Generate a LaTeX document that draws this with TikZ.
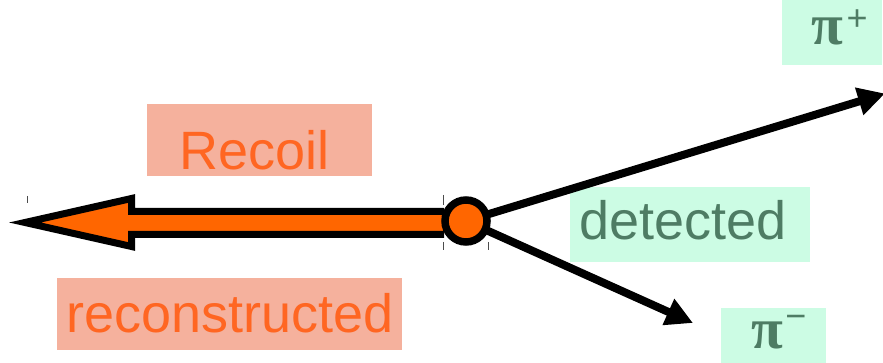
\documentclass[tikz,border=0pt]{standalone}
\usepackage{fontspec}
\setmainfont{Liberation Sans}
\newfontfamily\pifont{Liberation Serif}
\usetikzlibrary{arrows.meta}
\definecolor{salmon}{HTML}{F5B19D}
\definecolor{mint}{HTML}{CCFCE4}
\definecolor{recoilorange}{HTML}{FF6622}
\definecolor{darkgreen}{HTML}{4E7C64}
\definecolor{fillorange}{HTML}{FF6600}
\tikzset{
  lbl/.style={font=\fontsize{54}{58}\selectfont, inner sep=0pt},
  pilbl/.style={font=\pifont\bfseries\fontsize{58}{60}\selectfont, inner sep=0pt,
    text height=0.5em, text depth=0pt, text=darkgreen},
  supsign/.style={font=\fontsize{36}{36}\selectfont, inner sep=0pt,
    text height=0.6em, text depth=0pt, text=darkgreen},
  track/.style={line width=8pt, -{Triangle[length=27pt,width=27pt]}},
  tick/.style={line width=0.8pt, draw=black!70},
}
\begin{document}
\begin{tikzpicture}[x=1pt,y=-1pt]
\useasboundingbox (0,0) rectangle (883,363);
% label boxes
\fill[salmon] (147,104) rectangle (372,176);
\fill[salmon] (57,278) rectangle (402,350);
\fill[mint] (570,187) rectangle (810,262);
\fill[mint] (782,0) rectangle (882,65);
\fill[mint] (721,308) rectangle (826,363);
\node[lbl, text=recoilorange, anchor=base] (recoil) at (254.5,170) {Recoil};
\node[lbl, text=recoilorange, anchor=base] (reco) at (230,332) {reconstructed};
\node[lbl, text=darkgreen, anchor=base] (det) at (683,240) {detected};
% pion labels
\node[pilbl, anchor=base] (pip) at (827,45) {π};
\node[supsign, anchor=center] (pips) at (857,28) {+};
\node[pilbl, anchor=base] (pim) at (767,348) {π};
\node[supsign, anchor=center] (pims) at (796,325) {−};
% vertex and decay tracks
\coordinate (vtx) at (466,221);
\coordinate (tipP) at (885,93.5);
\coordinate (tipM) at (693,323);
\draw[track] (vtx) -- (tipP);
\draw[track] (vtx) -- (tipM);
% recoil arrow
\filldraw[fill=fillorange, draw=black, line width=7pt, miter limit=10]
  (444,211.5) -- (131.5,211.5) -- (131.5,198.5) -- (25,222.5) -- (131.5,246.5) -- (131.5,234.5) -- (444,234.5);
\node[circle, minimum size=42pt, inner sep=0pt, fill=fillorange, draw=black, line width=7.5pt] (c) at (vtx) {};
% small selection marks
\draw[tick] (27,196) -- (27,203);
\draw[tick] (443,195) -- (443,205);
\draw[tick] (443,242) -- (443,250);
\draw[tick] (488,242) -- (488,250);
\end{tikzpicture}
\end{document}
